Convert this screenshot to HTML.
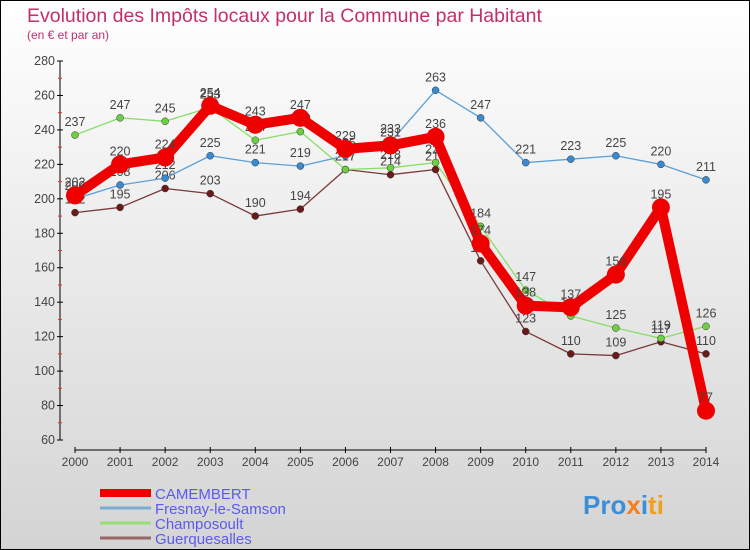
<!DOCTYPE html>
<html><head><meta charset="utf-8"><style>
body{margin:0;}
#c{width:750px;height:550px;position:relative;overflow:hidden;}
svg{font-family:"Liberation Sans",sans-serif;}
</style></head><body>
<div id="c">
<svg id="s" width="750" height="550" xmlns="http://www.w3.org/2000/svg">
<defs><linearGradient id="bg" x1="0" y1="0" x2="0" y2="1"><stop offset="0" stop-color="#ffffff"/><stop offset="1" stop-color="#d4d4d4"/></linearGradient></defs>
<rect x="0.5" y="0.5" width="749" height="549" fill="url(#bg)" stroke="#000"/>
<text x="27" y="22" font-size="19.5" fill="#c0306a">Evolution des Impôts locaux pour la Commune par Habitant</text>
<text x="27" y="39" font-size="12" fill="#c0306a">(en € et par an)</text>
<g id="axes"></g><g id="series"></g><g id="legend"></g>
<text x="583" y="514" font-size="26" font-weight="bold" fill="#3a8fd8">Pro<tspan fill="#f08020">x</tspan><tspan fill="#3a8fd8">i</tspan><tspan fill="#f0a020">ti</tspan></text>
</svg></div>
<script>
const years=[2000,2001,2002,2003,2004,2005,2006,2007,2008,2009,2010,2011,2012,2013,2014];
const camembert=[202,220,224,254,243,247,229,231,236,174,138,137,156,195,77];
const fresnay=[200,208,212,225,221,219,225,233,263,247,221,223,225,220,211];
const champosoult=[237,247,245,253,234,239,217,218,221,184,147,132,125,119,126];
const guerquesalles=[192,195,206,203,190,194,217,214,217,164,123,110,109,117,110];
const yTicks=[60,80,100,120,140,160,180,200,220,240,260,280];
const NS="http://www.w3.org/2000/svg";
const x=i=>75+i*(706-75)/14;
const y=v=>440-(v-60)*(440-61)/220;
function el(t,a,p){const e=document.createElementNS(NS,t);for(const k in a)e.setAttribute(k,a[k]);p.appendChild(e);return e;}
const ax=document.getElementById('axes');
let yl=el('line',{x1:60,y1:61,x2:60,y2:440,stroke:'#000'},ax);


yTicks.forEach(v=>{
 el('line',{x1:57,x2:63,y1:y(v),y2:y(v),stroke:'#000'},ax);
 if(v<280){el('line',{x1:58,x2:62,y1:y(v+10),y2:y(v+10),stroke:'#e03030'},ax);}
 const t=el('text',{x:55,y:y(v)+4,'font-size':12.5,fill:'#444','text-anchor':'end'},ax);t.textContent=v;
 
 
});
let xl=el('line',{x1:75,y1:450,x2:706,y2:450,stroke:'#000'},ax);


years.forEach((yr,i)=>{
 el('line',{x1:x(i),x2:x(i),y1:447,y2:453,stroke:'#000'},ax);
 const t=el('text',{x:x(i),y:466,'font-size':12,fill:'#444','text-anchor':'middle'},ax);t.textContent=yr;
 
 
});
const sg=document.getElementById('series');
const defs=[
 {d:guerquesalles,c:'#6b1a1a',line:'#7a3a3a',w:1.3,r:3.5,n:'guerquesalles'},
 {d:champosoult,c:'#6cd040',line:'#88dd66',w:1.3,r:3.5,n:'champosoult'},
 {d:fresnay,c:'#3a8ad0',line:'#5a9fd8',w:1.3,r:3.5,n:'fresnay-le-samson'},
 {d:camembert,c:'#ee0000',line:'#ee0000',w:10,r:9,n:'camembert'}];
defs.forEach(s=>{
 const g=el('g',{},sg);
 
 
 const p=el('polyline',{points:s.d.map((v,i)=>x(i)+','+y(v)).join(' '),fill:'none',stroke:s.line,'stroke-width':s.w,'stroke-linejoin':'round'},g);
 
 
 s.d.forEach((v,i)=>{
  const c=el('circle',{cx:x(i),cy:y(v),r:s.r,fill:s.c,stroke:s.r>5?'none':'#333','stroke-width':0.5},g);
  
  
  const t=el('text',{x:x(i),y:y(v)-9,'font-size':12.5,fill:'#444','text-anchor':'middle'},g);t.textContent=v;
  
  
 });
});
const lg=document.getElementById('legend');
const names=['CAMEMBERT','Fresnay-le-Samson','Champosoult','Guerquesalles'];
const lc=['#ee0000','#7aaed0','#99dd77','#996666'];const lw=[8,3,3,3];
names.forEach((n,i)=>{
 const yy=493+i*15;
 const l=el('line',{x1:100,x2:151,y1:yy,y2:yy,stroke:lc[i],'stroke-width':lw[i]},lg);
 
 
 const t=el('text',{x:155,y:yy+6,'font-size':15,fill:'#5a5af0'},lg);t.textContent=n;
 
 
});
</script>
</body></html>
